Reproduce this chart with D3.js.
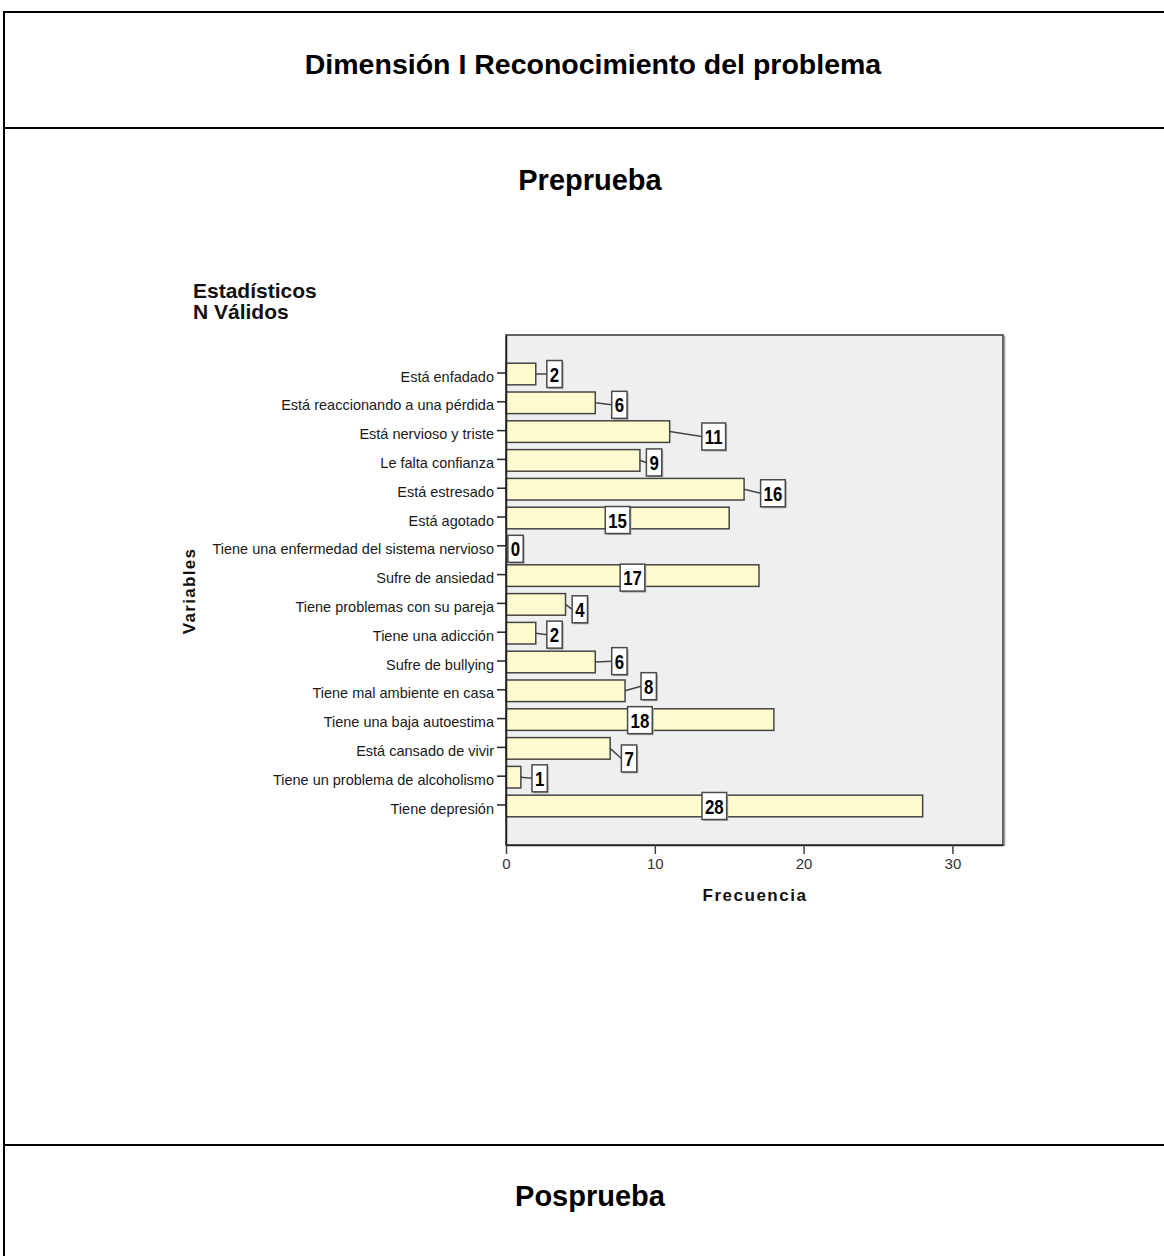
<!DOCTYPE html>
<html><head><meta charset="utf-8">
<script src="https://cdn.jsdelivr.net/npm/d3@7"></script>
<style>body{margin:0;background:#fff;} svg{display:block;}</style>
</head><body>
<svg id="chart" width="1164" height="1256"></svg>
<script>
// ---------- data ----------
const categories = [
  "Está enfadado",
  "Está reaccionando a una pérdida",
  "Está nervioso y triste",
  "Le falta confianza",
  "Está estresado",
  "Está agotado",
  "Tiene una enfermedad del sistema nervioso",
  "Sufre de ansiedad",
  "Tiene problemas con su pareja",
  "Tiene una adicción",
  "Sufre de bullying",
  "Tiene mal ambiente en casa",
  "Tiene una baja autoestima",
  "Está cansado de vivir",
  "Tiene un problema de alcoholismo",
  "Tiene depresión"
];
const values = [2, 6, 11, 9, 16, 15, 0, 17, 4, 2, 6, 8, 18, 7, 1, 28];
const xTicks = [0, 10, 20, 30];
// where each value label sits, read on the frequency axis
const labelAt = [3.26, 7.62, 13.96, 9.95, 17.94, 7.5, 0.64, 8.5, 4.96, 3.26, 7.62, 9.59, 9.0, 8.27, 2.26, 14.0];
// vertical nudge of each value label, as a fraction of a row
const labelShift = [0, 0.07, 0.17, 0.07, 0.14, 0.07, 0.07, 0.07, 0.17, 0.05, -0.03, -0.16, 0.02, 0.35, 0.04, 0];
const pageTitle = "Dimensión I Reconocimiento del problema";
const sectionTitles = ["Preprueba", "Posprueba"];
const statsTitle = ["Estadísticos", "N Válidos"];
const xTitle = "Frecuencia";
const yTitle = "Variables";

// ---------- drawing ----------
const FONT = "'Liberation Sans', Arial, Helvetica, sans-serif";
const svg = d3.select("#chart").style("font-family", FONT);

// page frame
const frame = svg.append("g").attr("stroke", "#000").attr("stroke-width", 2);
frame.append("line").attr("x1", 4).attr("x2", 4).attr("y1", 11).attr("y2", 1256);
[12, 128, 1145].forEach(yy => frame.append("line").attr("x1", 3).attr("x2", 1164).attr("y1", yy).attr("y2", yy));

svg.append("text").attr("x", 593).attr("y", 74).attr("text-anchor", "middle")
  .attr("font-size", 28.5).attr("font-weight", "bold").attr("fill", "#000").text(pageTitle);
svg.append("text").attr("x", 590).attr("y", 190).attr("text-anchor", "middle")
  .attr("font-size", 29).attr("font-weight", "bold").attr("fill", "#000").text(sectionTitles[0]);
svg.append("text").attr("x", 590).attr("y", 1206).attr("text-anchor", "middle")
  .attr("font-size", 29).attr("font-weight", "bold").attr("fill", "#000").text(sectionTitles[1]);

svg.append("text").attr("x", 193).attr("y", 298).attr("font-size", 21).attr("font-weight", "bold").attr("fill", "#111").text(statsTitle[0]);
svg.append("text").attr("x", 193).attr("y", 319).attr("font-size", 21).attr("font-weight", "bold").attr("fill", "#111").text(statsTitle[1]);

const X0 = 506, X1 = 1003, Y0 = 335, Y1 = 845;
const x = d3.scaleLinear().domain([0, 33.4]).range([X0, X1]);
const y = d3.scaleBand().domain(categories).range([Y0, Y1]).paddingInner(0.25).paddingOuter(0.98);

// plot background
svg.append("rect").attr("x", X0).attr("y", Y0).attr("width", X1 - X0).attr("height", Y1 - Y0)
  .attr("fill", "#efefef").attr("stroke", "#333").attr("stroke-width", 1.5);
svg.append("line").attr("x1", X1 + 1.5).attr("x2", X1 + 1.5).attr("y1", Y0 + 1).attr("y2", Y1 + 1)
  .attr("stroke", "#9a9a9a").attr("stroke-width", 1.5);

// bars
svg.append("g").selectAll("rect").data(values).join("rect")
  .attr("x", x(0))
  .attr("y", (d, i) => y(categories[i]))
  .attr("width", d => x(d) - x(0))
  .attr("height", y.bandwidth())
  .attr("fill", "#fefbce")
  .attr("stroke", "#454545")
  .attr("stroke-width", 1.5);

// axes
const yAxis = svg.append("g").attr("transform", `translate(${X0},0)`)
  .call(d3.axisLeft(y).tickSize(9).tickPadding(3).tickSizeOuter(0));
yAxis.select(".domain").attr("stroke", "#222").attr("stroke-width", 1.5);
yAxis.selectAll(".tick line").attr("stroke", "#222").attr("stroke-width", 1.5).attr("transform", "translate(0,-1)");
yAxis.selectAll(".tick text").attr("font-size", 14.5).attr("font-family", FONT).attr("fill", "#1a1a1a").attr("dy", "0.52em");

const xAxis = svg.append("g").attr("transform", `translate(0,${Y1})`)
  .call(d3.axisBottom(x).tickValues(xTicks).tickFormat(d3.format("d")).tickSize(9).tickPadding(4).tickSizeOuter(0));
xAxis.select(".domain").attr("stroke", "#222").attr("stroke-width", 1.5);
xAxis.selectAll(".tick line").attr("stroke", "#444").attr("stroke-width", 1.5);
xAxis.selectAll(".tick text").attr("font-size", 15).attr("font-family", FONT).attr("fill", "#333");

// axis titles
svg.append("text").attr("x", 755).attr("y", 901).attr("text-anchor", "middle")
  .attr("font-size", 17).attr("font-weight", "bold").attr("letter-spacing", "1.5px").attr("fill", "#111").text(xTitle);
svg.append("text").attr("transform", "translate(195,591) rotate(-90)").attr("text-anchor", "middle")
  .attr("font-size", 17).attr("font-weight", "bold").attr("letter-spacing", "1.3px").attr("fill", "#111").text(yTitle);

// value labels
const leaderG = svg.append("g");
const labelG = svg.append("g");
const SX = 0.8, BH = 27;
values.forEach((v, i) => {
  const cx = x(labelAt[i]);
  const barCy = y(categories[i]) + y.bandwidth() / 2;
  const cy = barCy + labelShift[i] * y.step();
  const g = labelG.append("g").attr("transform", `translate(${cx},${cy})`);
  const t = g.append("text").text(v).attr("font-size", 21).attr("font-weight", "bold")
    .attr("text-anchor", "middle").attr("dy", "0.36em").attr("fill", "#000")
    .attr("transform", `scale(${SX},1)`);
  const w = t.node().getComputedTextLength() * SX + 6;
  g.insert("rect", "text").attr("x", -w / 2 + 1.5).attr("y", -BH / 2 + 1.5).attr("width", w).attr("height", BH).attr("fill", "#aaa");
  g.insert("rect", "text").attr("x", -w / 2).attr("y", -BH / 2).attr("width", w).attr("height", BH)
    .attr("fill", "#fff").attr("stroke", "#4a4a4a").attr("stroke-width", 1.5);
  const left = cx - w / 2;
  if (left > x(v) + 1) {
    leaderG.append("line").attr("x1", x(v)).attr("y1", barCy).attr("x2", left).attr("y2", cy)
      .attr("stroke", "#454545").attr("stroke-width", 1.5);
  }
});
</script>
</body></html>
